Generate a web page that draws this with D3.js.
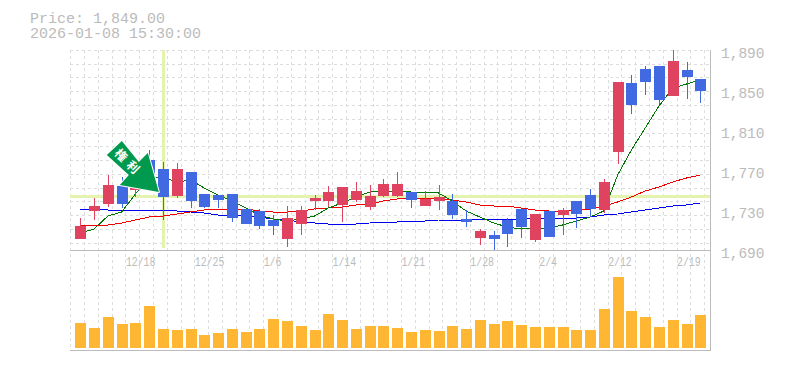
<!DOCTYPE html>
<html>
<head>
<meta charset="utf-8">
<script src="https://cdn.jsdelivr.net/npm/d3@7"></script>
<style>
  html, body { margin: 0; padding: 0; background: #fff; }
  svg { display: block; }
  text { font-family: "Liberation Mono", monospace; fill: #bbb; }
</style>
</head>
<body>
<div id="chart"></div>
<script>
// daily candles
var opens = [1701,1729,1736,1754,1750,1780,1771,1744,1768,1746,1745,1746,1731,1729,1720,1701,1716,1739,1739,1735,1740,1733,1744,1744,1748,1734,1739,1739,1721,1702,1705,1720,1731,1700,1729,1725,1739,1745,1730,1788,1857,1871,1874,1844,1870,1861];
var closes = [1714,1734,1755,1736,1775,1752,1743,1771,1739,1733,1740,1722,1716,1714,1714,1722,1730,1742,1748,1753,1749,1744,1756,1756,1740,1741,1743,1725,1718,1709,1701,1706,1713,1726,1703,1730,1726,1731,1758,1858,1835,1858,1840,1879,1863,1849];
var highs = [1722,1742,1765,1763,1780,1790,1778,1777,1768,1746,1745,1746,1731,1731,1725,1734,1734,1745,1754,1753,1758,1755,1761,1768,1748,1749,1755,1746,1730,1711,1709,1722,1731,1726,1729,1732,1739,1751,1761,1858,1865,1874,1874,1890,1878,1861];
var lows = [1701,1720,1733,1732,1743,1750,1720,1742,1732,1732,1732,1718,1716,1711,1705,1693,1705,1730,1733,1718,1738,1730,1743,1743,1732,1734,1730,1721,1713,1695,1690,1693,1702,1698,1703,1705,1712,1723,1727,1776,1826,1845,1836,1844,1841,1837];

// moving averages
var maShort = [1707,1711,1724,1728,1746,1762,1763,1758,1760,1752,1745,1739,1732,1725,1721,1719,1721,1724,1732,1737,1743,1748,1749,1749,1748,1748,1747,1739,1729,1723,1717,1713,1711,1712,1712,1715,1719,1723,1729,1765,1790,1812,1834,1852,1856,1860];
var maMid = [1714,1715,1715,1717,1720,1723,1724,1726,1728,1730,1731,1731,1731,1729,1728,1728,1729,1731,1732,1733,1735,1736,1739,1741,1742,1742,1742,1740,1738,1735,1734,1734,1732,1730,1729,1729,1730,1731,1734,1738,1743,1749,1753,1758,1762,1765];
var maLong = [1731,1731,1730,1730,1730,1730,1730,1729,1728,1727,1725,1725,1724,1723,1721,1720,1718,1717,1716,1716,1716,1717,1718,1718,1719,1719,1720,1720,1720,1721,1721,1721,1721,1722,1722,1722,1722,1723,1725,1726,1728,1730,1732,1734,1735,1737];

var volumes = [25,20,31,24,25,42,19,18,19,13,15,19,16,19,29,27,22,18,34,28,19,22,22,20,16,18,17,22,19,28,24,27,23,21,21,21,18,18,39,71,37,31,21,28,24,33];

var priceTicks = [1890,1850,1810,1770,1730,1690];
var dateIndexes = [4,9,14,19,24,29,34,39,44];
var dateLabels = ["12/18","12/25","1/6","1/14","1/21","1/28","2/4","2/12","2/19"];

var crossIndex = 6;
var crossPrice = 1743.5;
var arrowIndex = 5.7;
var arrowPrice = 1748;
var arrowText = "\u6a29\u5229";
var headerPrice = "Price: 1,849.00";
var headerDate = "2026-01-08 15:30:00";

var colorUp = "#e0435f";
var colorDown = "#4169e1";

var width = 785, height = 370;
var plotLeft = 70, plotRight = 710, plotTop = 50, plotMid = 250, plotBottom = 350, volBase = 348;

var svg = d3.select("#chart").append("svg")
    .attr("width", width)
    .attr("height", height);

var x = d3.scaleLinear().domain([0, 45]).range([80.3, 700.3]);
var y = d3.scaleLinear().domain([1690, 1890]).range([plotMid, plotTop]);
var yVol = d3.scaleLinear().domain([0, d3.max(volumes)]).range([volBase, 277]);

function px(v) { return Math.round(v) + 0.5; }

// dashed grid
var grid = svg.append("g")
    .attr("stroke", "#ddd")
    .attr("stroke-dasharray", "3,3")
    .attr("shape-rendering", "crispEdges");

grid.selectAll("line.v")
    .data(d3.range(0, 47))
    .enter().append("line")
    .attr("class", "v")
    .attr("x1", function(d) { return px(x(d) - 10); })
    .attr("x2", function(d) { return px(x(d) - 10); })
    .attr("y1", plotTop)
    .attr("y2", plotBottom);

grid.selectAll("line.h")
    .data(d3.range(1890, 1691, -13.75))
    .enter().append("line")
    .attr("class", "h")
    .attr("x1", plotLeft)
    .attr("x2", plotRight)
    .attr("y1", function(d) { return px(y(d)); })
    .attr("y2", function(d) { return px(y(d)); });

// panel frame
var frame = svg.append("g").attr("stroke", "#bbb").attr("shape-rendering", "crispEdges");
frame.append("line").attr("x1", plotLeft).attr("x2", plotRight + 1).attr("y1", plotMid + 0.5).attr("y2", plotMid + 0.5);
frame.append("line").attr("x1", plotLeft).attr("x2", plotRight + 1).attr("y1", plotBottom + 0.5).attr("y2", plotBottom + 0.5);
frame.append("line").attr("x1", plotRight + 0.5).attr("x2", plotRight + 0.5).attr("y1", plotTop).attr("y2", plotBottom);

// crosshair
svg.append("rect")
    .attr("x", Math.round(x(crossIndex)) - 1)
    .attr("y", plotTop)
    .attr("width", 3)
    .attr("height", 198)
    .attr("fill", "#e4f3ae");
svg.append("rect")
    .attr("x", plotLeft)
    .attr("y", Math.round(y(crossPrice)) - 1)
    .attr("width", plotRight - plotLeft)
    .attr("height", 3)
    .attr("fill", "#e4f3ae");

// moving averages sit under the candles
function maLine(values, color, w) {
    var line = d3.line()
        .x(function(d, i) { return x(i); })
        .y(function(d) { return y(d); });
    svg.append("path")
        .attr("d", line(values))
        .attr("fill", "none")
        .attr("stroke", color)
        .attr("stroke-width", w)
        .attr("shape-rendering", "crispEdges");
}
maLine(maLong, "#0000ee", 1);
maLine(maMid, "#ee0000", 1);
maLine(maShort, "#007700", 1);

// candles
var candles = svg.selectAll("g.candle")
    .data(opens)
    .enter().append("g")
    .attr("class", "candle")
    .attr("fill", function(d, i) { return closes[i] >= d ? colorUp : colorDown; })
    .attr("stroke", function(d, i) { return closes[i] >= d ? colorUp : colorDown; })
    .attr("shape-rendering", "crispEdges");

candles.append("line")
    .attr("x1", function(d, i) { return px(x(i)); })
    .attr("x2", function(d, i) { return px(x(i)); })
    .attr("y1", function(d, i) { return y(highs[i]); })
    .attr("y2", function(d, i) { return y(lows[i]); });

candles.append("rect")
    .attr("stroke", "none")
    .attr("x", function(d, i) { return Math.round(x(i)) - 5; })
    .attr("width", 11)
    .attr("y", function(d, i) { return y(Math.max(d, closes[i])); })
    .attr("height", function(d, i) { return Math.abs(y(d) - y(closes[i])); });

// volume
svg.selectAll("rect.vol")
    .data(volumes)
    .enter().append("rect")
    .attr("class", "vol")
    .attr("fill", "#ffb733")
    .attr("shape-rendering", "crispEdges")
    .attr("x", function(d, i) { return Math.round(x(i)) - 5; })
    .attr("width", 11)
    .attr("y", function(d) { return yVol(d); })
    .attr("height", function(d) { return volBase - yVol(d); });

// arrow marker, offsets are relative to its tip
var arrowShape = [[-37,-51],[-52,-37],[-30,-17],[-39,-7],[0,0],[-11,-39],[-20,-30]];
var arrow = svg.append("g")
    .attr("transform", "translate(" + x(arrowIndex) + "," + y(arrowPrice) + ")");
arrow.append("polygon")
    .attr("points", arrowShape.join(" "))
    .attr("fill", "#00994d")
    .attr("stroke", "#fff")
    .attr("stroke-width", 2)
    .attr("stroke-linejoin", "round")
    .attr("paint-order", "stroke");
arrow.append("text")
    .attr("transform", "translate(-30,-29) rotate(45)")
    .attr("text-anchor", "middle")
    .attr("dy", "0.35em")
    .style("font-family", '"Noto Sans CJK JP"')
    .style("font-size", "12px")
    .style("font-weight", "bold")
    .style("letter-spacing", "5px")
    .style("fill", "#fff")
    .text(arrowText);

// axes
var yAxis = d3.axisRight(y).tickValues(priceTicks).tickSize(0).tickPadding(0).tickFormat(d3.format(","));
var yg = svg.append("g").attr("transform", "translate(721,3)").call(yAxis);
yg.select(".domain").remove();
yg.selectAll("text").style("font-size", "14.5px").style("font-family", '"Liberation Mono", monospace').attr("fill", null);

var xAxis = d3.axisBottom(x).tickValues(dateIndexes).tickSize(0).tickPadding(0)
    .tickFormat(function(d, i) { return dateLabels[i]; });
var xg = svg.append("g").attr("transform", "translate(0,257)").call(xAxis);
xg.select(".domain").remove();
xg.selectAll("text")
    .attr("text-anchor", "start")
    .attr("x", -10)
    .attr("y", 0)
    .attr("dy", "0.72em")
    .attr("fill", null)
    .style("font-size", "12px")
    .style("font-family", '"Liberation Mono", monospace')
    .attr("lengthAdjust", "spacingAndGlyphs")
    .attr("textLength", function(d, i) { return dateLabels[i].length * 5.9; });

// header
svg.append("text").attr("x", 30).attr("y", 23).style("font-size", "15px").text(headerPrice);
svg.append("text").attr("x", 30).attr("y", 38).style("font-size", "15px").text(headerDate);
</script>
</body>
</html>
